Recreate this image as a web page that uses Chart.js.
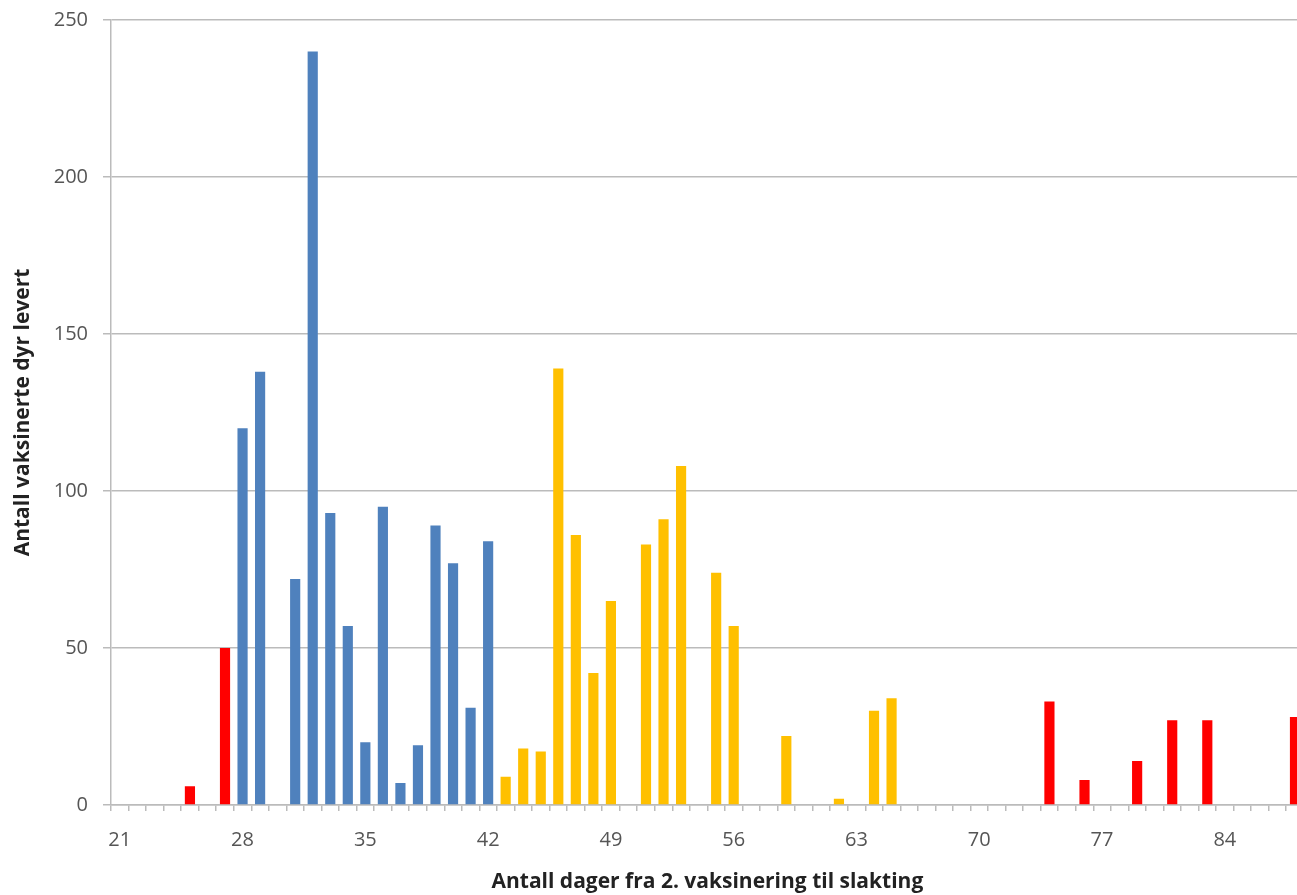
<!DOCTYPE html>
<html lang="no">
<head>
    <meta charset="UTF-8">
    <title>Antall vaksinerte dyr levert</title>
    <script src="https://cdn.jsdelivr.net/npm/chart.js"></script>
    <style>
        html, body { margin: 0; padding: 0; background: #fff; overflow: hidden; }
        #wrap { width: 1312px; height: 895px; }
    </style>
</head>
<body>
<div id="wrap"><canvas id="dagerChart" width="1312" height="895"></canvas></div>

<script>
    // dager fra 2. vaksinering til slakting
    const days = [21, 22, 23, 24, 25, 26, 27, 28, 29, 30, 31, 32, 33, 34, 35, 36, 37, 38, 39, 40,
                  41, 42, 43, 44, 45, 46, 47, 48, 49, 50, 51, 52, 53, 54, 55, 56, 57, 58, 59, 60,
                  61, 62, 63, 64, 65, 66, 67, 68, 69, 70, 71, 72, 73, 74, 75, 76, 77, 78, 79, 80,
                  81, 82, 83, 84, 85, 86, 87, 88];
    // antall dyr levert per dag
    const counts = [0, 0, 0, 0, 6, 0, 50, 120, 138, 0, 72, 240, 93, 57, 20, 95, 7, 19, 89, 77,
                    31, 84, 9, 18, 17, 139, 86, 42, 65, 0, 83, 91, 108, 0, 74, 57, 0, 0, 22, 0,
                    0, 2, 0, 30, 34, 0, 0, 0, 0, 0, 0, 0, 0, 33, 0, 8, 0, 0, 14, 0,
                    27, 0, 27, 0, 0, 0, 0, 28];
    const yTicks = [0, 50, 100, 150, 200, 250];

    const font = "'Open Sans', 'Liberation Sans', sans-serif";
    const gridGrey = '#BBBBBB';
    const textGrey = '#555555';

    function barColor(day) {
        if (day < 28 || day >= 70) return '#FF0000';
        if (day <= 42) return '#4F81BD';
        return '#FFC000';
    }

    new Chart(document.getElementById('dagerChart'), {
        type: 'bar',
        data: {
            labels: days,
            datasets: [{
                data: counts,
                backgroundColor: days.map(barColor),
                borderWidth: 0,
                barPercentage: 0.58,
                categoryPercentage: 1.0
            }]
        },
        options: {
            responsive: false,
            devicePixelRatio: 1,
            animation: false,
            layout: { padding: { top: 19, right: 0, left: 0, bottom: 0 } },
            plugins: {
                legend: { display: false },
                tooltip: { enabled: false }
            },
            scales: {
                x: {
                    offset: true,
                    grid: {
                        offset: true,
                        drawOnChartArea: false,
                        drawTicks: true,
                        tickLength: 6,
                        color: gridGrey,
                        lineWidth: 1.5
                    },
                    border: { display: true, color: gridGrey, width: 1.5 },
                    ticks: {
                        autoSkip: false,
                        maxRotation: 0,
                        padding: 17,
                        color: textGrey,
                        font: { family: font, size: 20 },
                        callback: function (value) {
                            const d = days[value];
                            return (d - 21) % 7 === 0 ? String(d) : '';
                        }
                    },
                    title: {
                        display: true,
                        text: 'Antall dager fra 2. vaksinering til slakting',
                        color: '#222',
                        font: { family: font, size: 21, weight: 'bold' },
                        padding: { top: 0, bottom: 0 }
                    },
                    afterFit: function (scale) { scale.height = 90; }
                },
                y: {
                    min: 0,
                    max: 250,
                    afterBuildTicks: function (scale) {
                        scale.ticks = yTicks.map(v => ({ value: v }));
                    },
                    grid: {
                        color: gridGrey,
                        lineWidth: 1.5,
                        drawTicks: true,
                        tickLength: 8
                    },
                    border: { display: true, color: gridGrey, width: 1.5 },
                    ticks: {
                        padding: 15,
                        color: textGrey,
                        font: { family: font, size: 20, lineHeight: 0.5 }
                    },
                    title: {
                        display: true,
                        text: 'Antall vaksinerte dyr levert',
                        color: '#222',
                        font: { family: font, size: 21, weight: 'bold' },
                        padding: { top: 10, bottom: 0 }
                    },
                    afterFit: function (scale) { scale.width = 111; }
                }
            }
        },
        plugins: [{
            id: 'whiteBg',
            beforeDraw: function (chart) {
                const ctx = chart.ctx;
                ctx.save();
                ctx.fillStyle = '#fff';
                ctx.fillRect(0, 0, chart.width, chart.height);
                ctx.restore();
            }
        }]
    });
</script>
</body>
</html>
